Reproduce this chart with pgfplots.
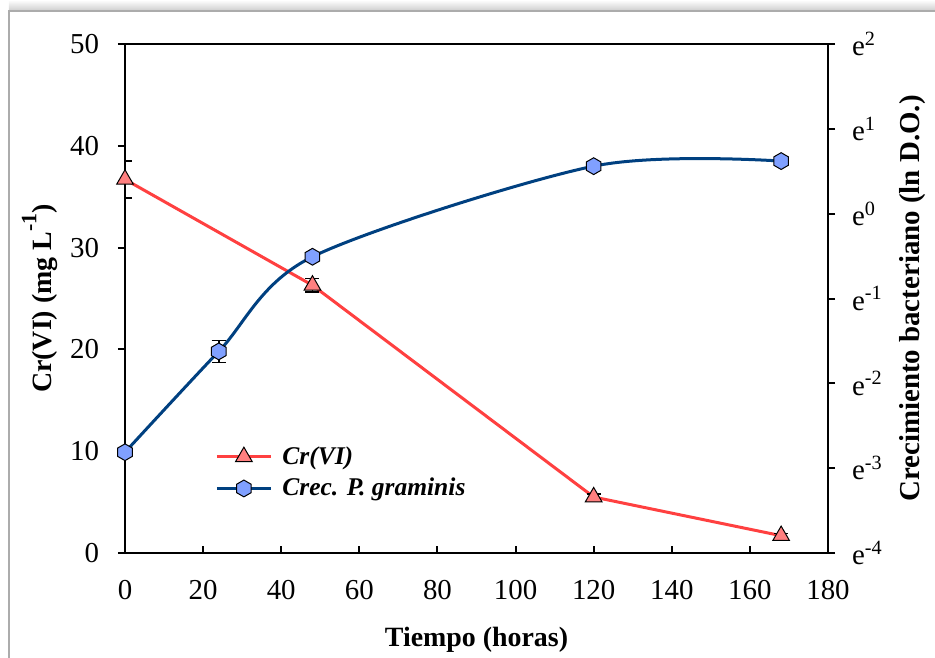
\documentclass[border=0pt]{standalone}
\usepackage{fontspec}
\setmainfont{Liberation Serif}
\usepackage{pgfplots}
\pgfplotsset{compat=1.18}
\definecolor{crline}{RGB}{255,64,64}
\definecolor{crfill}{RGB}{255,128,128}
\definecolor{bline}{RGB}{0,64,128}
\definecolor{bfill}{RGB}{128,160,255}

% hexagon mark, pointy top
\pgfdeclareplotmark{hexagon*}{%
  \pgfpathmoveto{\pgfqpointpolar{90}{\pgfplotmarksize}}%
  \pgfpathlineto{\pgfqpointpolar{150}{\pgfplotmarksize}}%
  \pgfpathlineto{\pgfqpointpolar{210}{\pgfplotmarksize}}%
  \pgfpathlineto{\pgfqpointpolar{270}{\pgfplotmarksize}}%
  \pgfpathlineto{\pgfqpointpolar{330}{\pgfplotmarksize}}%
  \pgfpathlineto{\pgfqpointpolar{30}{\pgfplotmarksize}}%
  \pgfpathclose
  \pgfusepathqfillstroke}

\pgfplotsset{
  base/.style={
    scale only axis, width=351.5bp, height=254.5bp,
    at={(0,0)}, anchor=south west,
    xmin=0, xmax=180,
    axis line style={line width=1.2bp},
    major tick length=3.5bp,
    every tick/.style={black, line width=1bp},
    tick label style={font=\fontsize{14.5}{17}\selectfont},
    /pgf/number format/assume math mode=true,
  },
  crstyle/.style={crline, line width=1.5bp, mark=triangle*, mark size=4.8bp,
    mark options={fill=crfill, draw=black, line width=0.5bp}},
  bstyle/.style={bline, line width=1.5bp, mark=hexagon*, mark size=4.2bp,
    mark options={fill=bfill, draw=black, line width=0.5bp}},
  ebar/.style={error bars/.cd, y dir=both, y explicit,
    error bar style={black, line width=0.8bp},
    error mark options={rotate=90, black, mark size=3.5bp, line width=0.8bp}},
}

\begin{document}
\begin{tikzpicture}
\useasboundingbox (-62.5bp,-52.5bp) rectangle (405bp,276.5bp);
\shade[top color=white, bottom color=gray!40] (-58bp,271bp) rectangle (405bp,276.5bp);
\draw[gray!65, line width=1bp] (-58bp,-52.5bp) -- (-58bp,271bp) -- (405bp,271bp);

\begin{axis}[base,
  ymin=0, ymax=50,
  xtick={0,20,...,180}, ytick={0,10,...,50},
  xtick pos=left, ytick pos=left,
  xtick align=inside, ytick align=outside,
  xticklabel style={yshift=-10bp},
  yticklabel style={xshift=-6bp},
  xlabel={Tiempo (horas)},
  ylabel={Cr(VI) (mg L\raisebox{0.55em}{\fontsize{11}{13}\selectfont -1})},
  label style={font=\bfseries\fontsize{14}{16}\selectfont},
  xlabel style={at={(axis description cs:0.5,-0.17)}, anchor=center},
  ylabel style={at={(axis description cs:-0.121,0.5)}, anchor=center},
]
\addplot[crstyle, ebar] coordinates {
  (0,36.7) +- (0,1.8)
  (48,26.3) +- (0,0.65)
  (120,5.5) +- (0,0.3)
  (168,1.7) +- (0,0.2)
};
\end{axis}

\begin{axis}[base,
  ymin=-4, ymax=2,
  axis x line=none, axis y line*=right,
  ytick={-4,-3,...,2},
  yticklabels={e\textsuperscript{-4},e\textsuperscript{-3},e\textsuperscript{-2},e\textsuperscript{-1},e\textsuperscript{0},e\textsuperscript{1},e\textsuperscript{2}},
  tick align=outside,
  yticklabel style={xshift=5bp},
  ylabel={Crecimiento bacteriano (ln D.O.)},
  ylabel style={font=\bfseries\fontsize{14.5}{17}\selectfont,
    at={(axis description cs:1.12,0.5)}, anchor=center},
  legend style={at={(axis description cs:0.128,0.218)}, anchor=north west,
    draw=none, fill=none, inner sep=0pt,
    font=\bfseries\itshape\fontsize{12.8}{15}\selectfont,
    row sep=1.5bp, nodes={inner sep=2bp},
    /tikz/every even column/.append style={column sep=0pt}},
  legend cell align=left,
  legend image code/.code={\draw[mark repeat=2,mark phase=2,#1]
    plot coordinates {(0bp,0bp) (13.5bp,0bp) (27bp,0bp)};},
]
\addlegendimage{crstyle}
\addlegendentry{\hspace{3bp}Cr(VI)}
\addplot[bstyle, smooth, tension=0.5, ebar] coordinates {
  (0,-2.812) +- (0,0.04)
  (24,-1.624) +- (0,0.13)
  (48,-0.508) +- (0,0.04)
  (120,0.56) +- (0,0.04)
  (168,0.62) +- (0,0.03)
};
\addlegendentry{\hspace{3bp}Crec. P. graminis}
\end{axis}
\end{tikzpicture}
\end{document}
